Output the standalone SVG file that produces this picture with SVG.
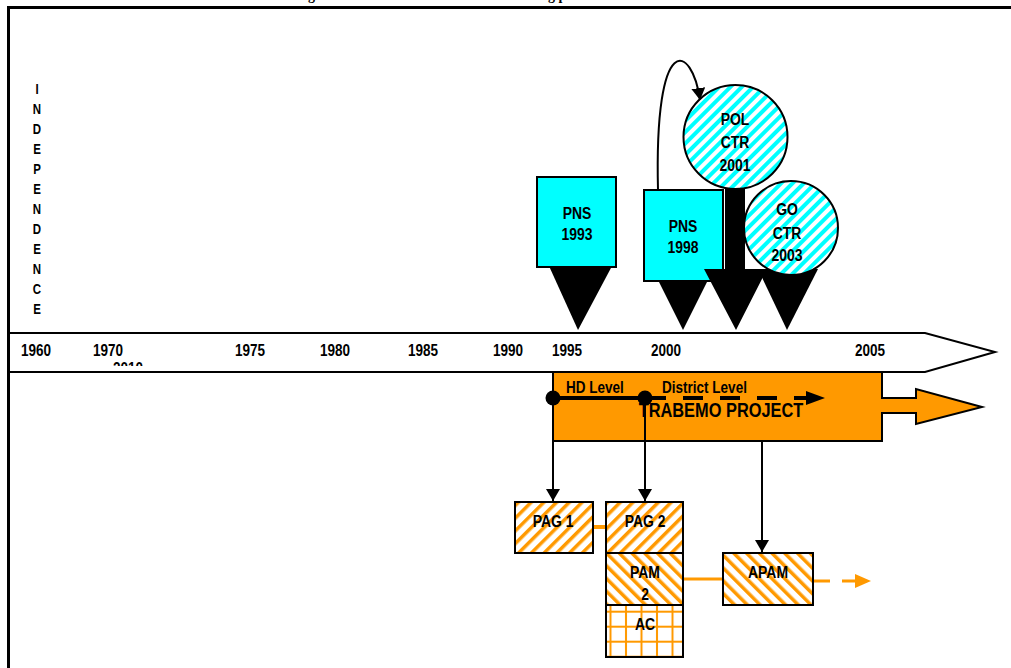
<svg xmlns="http://www.w3.org/2000/svg" width="1011" height="668" viewBox="0 0 1011 668">
<style>
.t{font-family:"Liberation Sans","Arial",sans-serif;font-weight:bold;fill:#000;transform-box:fill-box;transform-origin:center;transform:scaleX(.82)}
.l{transform-origin:left center}
.m{text-anchor:middle}
.ttl{font-family:"Liberation Serif",serif;font-weight:bold;font-size:14px}
.blk{fill:#000;stroke:none}
.bx{stroke:#000;stroke-width:2}
.cn{stroke:#000;stroke-width:2;fill:none}
.or{stroke:#FF9900;fill:none}
</style>
<defs>
<pattern id="cy" patternUnits="userSpaceOnUse" width="8" height="8" patternTransform="rotate(45)">
<rect width="8" height="8" fill="#fff"/><rect width="4" height="8" fill="#00FFFF"/>
</pattern>
<pattern id="of" patternUnits="userSpaceOnUse" width="9" height="9" patternTransform="rotate(45)">
<rect width="9" height="9" fill="#fff"/><rect width="3.5" height="9" fill="#FF9900"/>
</pattern>
<pattern id="ob" patternUnits="userSpaceOnUse" width="9" height="9" patternTransform="rotate(-45)">
<rect width="9" height="9" fill="#fff"/><rect width="3.5" height="9" fill="#FF9900"/>
</pattern>
<pattern id="og" patternUnits="userSpaceOnUse" width="15.5" height="15" patternTransform="translate(626 611.7)">
<rect width="15.5" height="15" fill="#fff"/><rect x="-1" width="2" height="15" fill="#FF9900"/><rect x="14.5" width="2" height="15" fill="#FF9900"/><rect y="-1" width="15.5" height="2" fill="#FF9900"/><rect y="14" width="15.5" height="2" fill="#FF9900"/>
</pattern>
<marker id="ah" viewBox="0 0 12 14" refX="12" refY="7" markerWidth="12" markerHeight="14" markerUnits="userSpaceOnUse" orient="auto">
<path d="M0,0 L12,7 L0,14 Z" fill="#000"/>
</marker>
<clipPath id="c2010"><rect x="100" y="355" width="60" height="11"/></clipPath>
</defs>
<rect width="1011" height="668" fill="#fff"/>
<text class="ttl" x="308" y="0">g</text>
<text class="ttl" x="548" y="0">g p</text>
<rect x="8.5" y="7.5" width="1100" height="700" fill="none" stroke="#000" stroke-width="3"/>

<g id="independence" font-size="14">
<text class="t m" x="37" y="94">I</text>
<text class="t m" x="37" y="114">N</text>
<text class="t m" x="37" y="134">D</text>
<text class="t m" x="37" y="154">E</text>
<text class="t m" x="37" y="174">P</text>
<text class="t m" x="37" y="194">E</text>
<text class="t m" x="37" y="214">N</text>
<text class="t m" x="37" y="234">D</text>
<text class="t m" x="37" y="254">E</text>
<text class="t m" x="37" y="274">N</text>
<text class="t m" x="37" y="294">C</text>
<text class="t m" x="37" y="314">E</text>
</g>

<g id="timeline">
<polygon points="9,333 925,333 995,352 925,372 9,372" fill="#fff" stroke="#000" stroke-width="2"/>
<g font-size="16.5">
<text class="t l" x="21" y="356">1960</text>
<text class="t l" x="93" y="356">1970</text>
<text class="t l" x="235" y="356">1975</text>
<text class="t l" x="320" y="356">1980</text>
<text class="t l" x="408" y="356">1985</text>
<text class="t l" x="493" y="356">1990</text>
<text class="t l" x="552" y="356">1995</text>
<text class="t l" x="651" y="356">2000</text>
<text class="t l" x="855" y="356">2005</text>
<g clip-path="url(#c2010)"><text class="t l" x="113" y="374">2010</text></g>
</g>
</g>

<g id="trabemo">
<path d="M553,372 H882 V398 H916 V389 L982,407 L916,424 V413 H882 V441 H553 Z" fill="#FF9900" stroke="#000" stroke-width="2"/>
<text class="t m" x="721" y="417" font-size="20">TRABEMO PROJECT</text>
<text class="t l" x="566" y="393" font-size="16.5">HD Level</text>
<text class="t l" x="662" y="393" font-size="16.5">District Level</text>
</g>

<g id="connectors">
<line x1="553" y1="398" x2="646" y2="398" stroke="#000" stroke-width="4"/>
<line x1="646" y1="398" x2="808" y2="398" stroke="#000" stroke-width="4" stroke-dasharray="20,17"/>
<polygon class="blk" points="806,391 825,398 806,405"/>
<circle class="blk" cx="553" cy="398" r="7.5"/>
<circle class="blk" cx="645" cy="398" r="7.5"/>
<line class="cn" x1="553" y1="405" x2="553" y2="501" marker-end="url(#ah)"/>
<line class="cn" x1="645" y1="405" x2="645" y2="501" marker-end="url(#ah)"/>
<line class="cn" x1="762" y1="441" x2="762" y2="552" marker-end="url(#ah)"/>
<path class="cn" d="M658,190 C654,28 692,44 700,100" marker-end="url(#ah)"/>
<line class="or" x1="593" y1="527" x2="606" y2="527" stroke-width="4"/>
<line class="or" x1="683" y1="579" x2="723" y2="579" stroke-width="3"/>
<line class="or" x1="813" y1="581" x2="858" y2="581" stroke-width="3" stroke-dasharray="17,12"/>
<polygon points="855,574 871,581 855,588" fill="#FF9900"/>
</g>

<g id="pns1993">
<polygon class="blk" points="549,266 612,266 578,330"/>
<rect class="bx" x="537" y="177" width="79" height="90" fill="#00FFFF" stroke="#222"/>
<text class="t m" x="577" y="219" font-size="17">PNS</text>
<text class="t m" x="577" y="240" font-size="17">1993</text>
</g>

<g id="pns1998">
<polygon class="blk" points="658,280 708,280 683,330"/>
<rect class="bx" x="644" y="190" width="79" height="91" fill="#00FFFF" stroke="#222"/>
<text class="t m" x="683" y="232" font-size="17">PNS</text>
<text class="t m" x="683" y="253" font-size="17">1998</text>
</g>

<g id="go2003">
<polygon class="blk" points="758,269 818,269 787,330"/>
<circle cx="791" cy="228" r="47" fill="url(#cy)" stroke="#000" stroke-width="2"/>
<text class="t m" x="787" y="215" font-size="17">GO</text>
<text class="t m" x="787" y="239" font-size="17">CTR</text>
<text class="t m" x="787" y="261" font-size="17">2003</text>
</g>

<g id="pol2001">
<path class="blk" d="M725,185 H745 V269 H767 L736,330 L704,269 H725 Z"/>
<circle cx="735.5" cy="137" r="52" fill="url(#cy)" stroke="#000" stroke-width="2"/>
<text class="t m" x="735" y="125" font-size="17">POL</text>
<text class="t m" x="735" y="148" font-size="17">CTR</text>
<text class="t m" x="735" y="171" font-size="17">2001</text>
</g>

<g id="pag1">
<rect class="bx" x="515" y="502" width="78" height="51" fill="url(#of)"/>
<text class="t m" x="553" y="527" font-size="17">PAG 1</text>
</g>
<g id="pag2">
<rect class="bx" x="606" y="502" width="77" height="51" fill="url(#of)"/>
<text class="t m" x="645" y="527" font-size="17">PAG 2</text>
</g>
<g id="pam2">
<rect class="bx" x="606" y="553" width="77" height="52" fill="url(#ob)"/>
<text class="t m" x="645" y="578" font-size="17">PAM</text>
<text class="t m" x="645" y="600" font-size="17">2</text>
</g>
<g id="ac">
<rect class="bx" x="606" y="605" width="77" height="52" fill="url(#og)"/>
<text class="t m" x="645" y="630" font-size="17">AC</text>
</g>
<g id="apam">
<rect class="bx" x="723" y="553" width="90" height="52" fill="url(#ob)"/>
<text class="t m" x="768" y="578" font-size="17">APAM</text>
</g>
</svg>
